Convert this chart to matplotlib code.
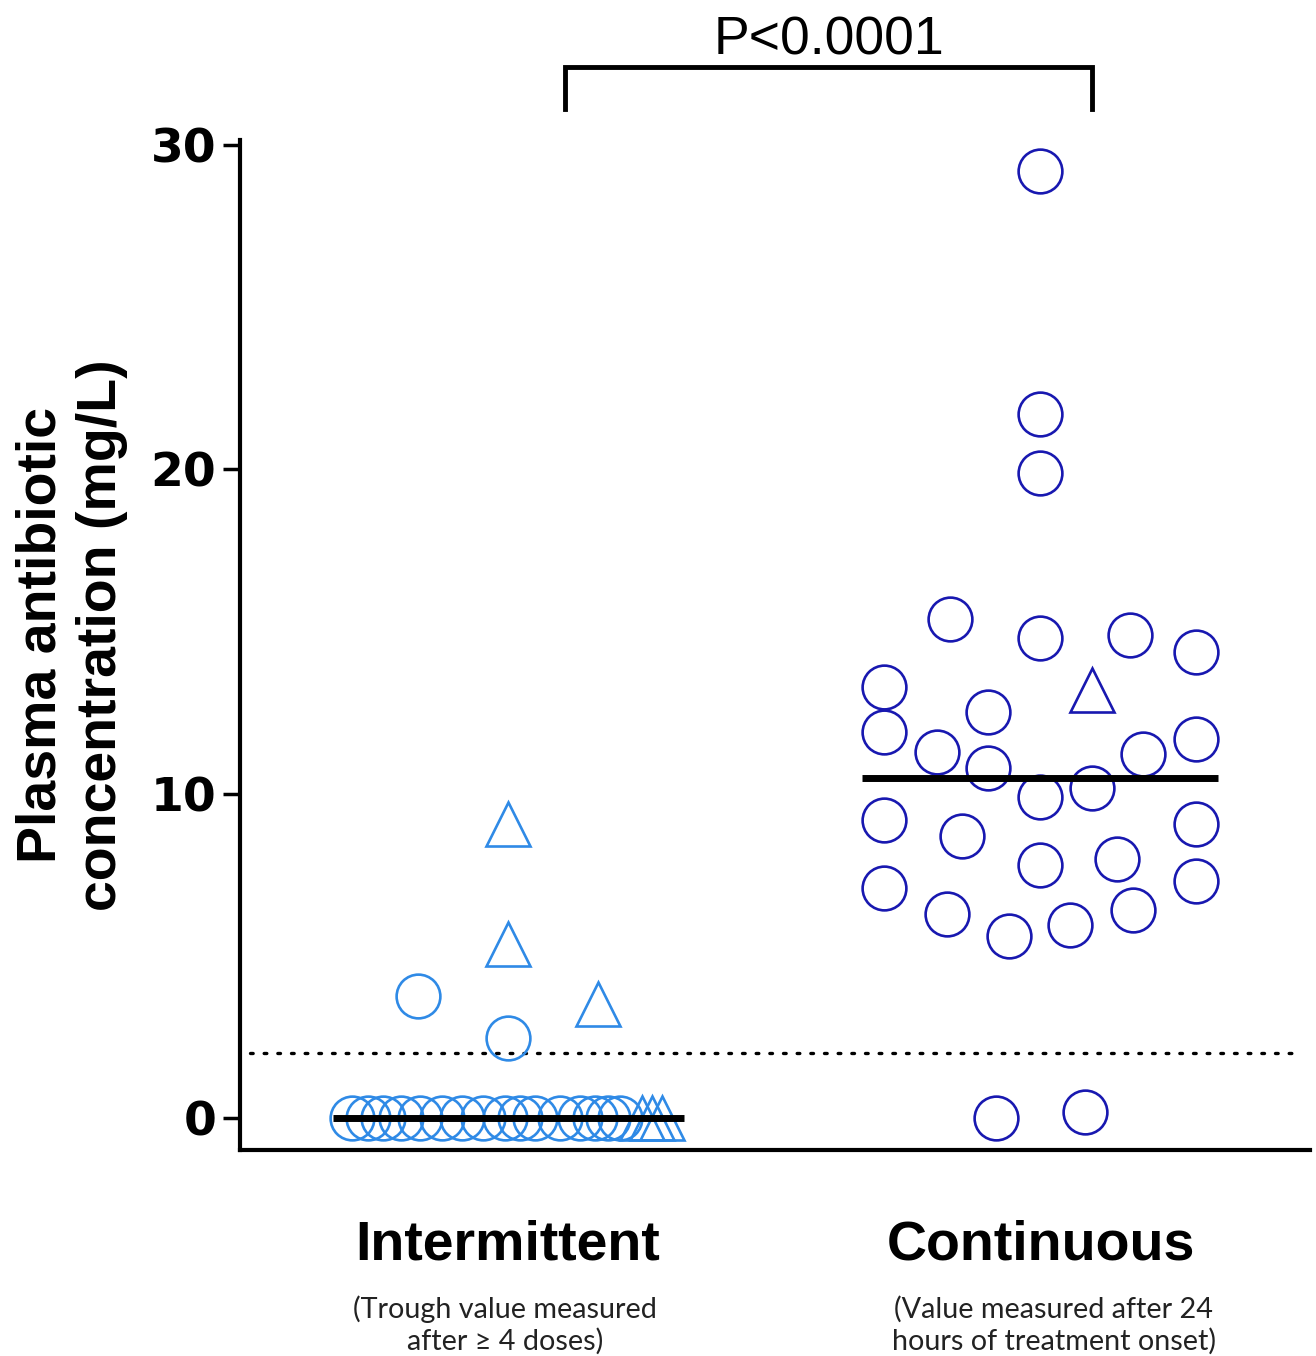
import matplotlib
matplotlib.use("Agg")
import matplotlib.pyplot as plt
import numpy as np

# ---------------- data ----------------
categories = ["Intermittent", "Continuous"]
subtitles = ["(Trough value measured\nafter \u2265 4 doses)",
             "(Value measured after 24\nhours of treatment onset)"]

# Intermittent group (x offsets are horizontal jitter)
int_circle_values = [0.0] * 16 + [3.76, 2.47]
int_circle_offsets = [-0.293, -0.263, -0.235, -0.201, -0.165, -0.124, -0.086,
                      -0.047, -0.006, 0.023, 0.051, 0.098, 0.135, 0.164,
                      0.188, 0.211, -0.169, 0.0]
int_triangle_values = [0.0, 0.0, 0.0, 9.05, 5.35, 3.51]
int_triangle_offsets = [0.252, 0.271, 0.290, 0.0, 0.0, 0.169]
int_median = 0.0

# Continuous group
cont_circle_values = [29.18, 21.69, 19.88, 15.38, 14.79, 14.88, 14.36, 13.28,
                      12.51, 11.90, 11.28, 11.22, 11.68, 10.79, 9.89, 10.17,
                      9.18, 8.69, 9.06, 7.80, 7.98, 7.09, 7.30, 6.29, 5.61,
                      5.95, 6.41, 0.0, 0.18]
cont_circle_offsets = [0.0, 0.0, 0.0, -0.169, 0.0, 0.169, 0.293, -0.293,
                       -0.098, -0.293, -0.194, 0.194, 0.293, -0.098, 0.0, 0.098,
                       -0.293, -0.147, 0.293, 0.0, 0.145, -0.293, 0.293, -0.175,
                       -0.058, 0.056, 0.175, -0.083, 0.085]
cont_triangle_values = [13.19]
cont_triangle_offsets = [0.098]
cont_median = 10.48

threshold = 2.0
p_text = "P<0.0001"
yticks = [0, 10, 20, 30]

# ---------------- figure ----------------
W, H = 1316, 1356
fig = plt.figure(figsize=(W / 100, H / 100), dpi=100)
ax = fig.add_axes([240 / W, 1 - 1150 / H, (1310 - 240) / W, (1150 - 140) / H])

c_int = "#2f8ae6"
c_cont = "#1818b0"
ms = 31.5
ew = 1.9

x_int, x_cont = 1, 2
ax.plot(np.array(int_circle_offsets) + x_int, int_circle_values, "o", ms=ms,
        mfc="none", mec=c_int, mew=ew, ls="none", clip_on=False, zorder=3)
ax.plot(np.array(int_triangle_offsets) + x_int, int_triangle_values, "^", ms=ms,
        mfc="none", mec=c_int, mew=ew, ls="none", clip_on=False, zorder=3)
ax.plot(np.array(cont_circle_offsets) + x_cont, cont_circle_values, "o", ms=ms,
        mfc="none", mec=c_cont, mew=ew, ls="none", clip_on=False, zorder=3)
ax.plot(np.array(cont_triangle_offsets) + x_cont, cont_triangle_values, "^", ms=ms,
        mfc="none", mec=c_cont, mew=ew, ls="none", clip_on=False, zorder=3)

# medians
ax.plot([x_int - 0.329, x_int + 0.331], [int_median] * 2, color="black", lw=5,
        solid_capstyle="butt", zorder=4)
ax.plot([x_cont - 0.335, x_cont + 0.335], [cont_median] * 2, color="black", lw=5,
        solid_capstyle="butt", zorder=4)

# threshold dotted line
ax.plot([0.515, 2.476], [threshold] * 2, color="black", lw=2.4,
        ls=(0, (0.8, 3.3)), dash_capstyle="round", zorder=2)

ax.set_xlim(0.496, 2.507)
ax.set_ylim(-0.99, 30.15)

for s in ["top", "right"]:
    ax.spines[s].set_visible(False)
for s in ["left", "bottom"]:
    ax.spines[s].set_linewidth(3)
ax.set_xticks([])
ax.set_yticks(yticks)
ax.set_yticklabels([str(t) for t in yticks], fontsize=34, fontweight="heavy",
                   family="DejaVu Sans")
ax.tick_params(axis="y", length=12, width=2.5, pad=5)

# significance bracket
bx0 = x_int + (565 - 508) / 532
bx1 = x_cont + (1092 - 1040) / 532
ax.plot([bx0, bx0, bx1, bx1], [31.12, 32.39, 32.39, 31.12], color="black", lw=3.5,
        clip_on=False, solid_joinstyle="miter")
ax.text((bx0 + bx1) / 2, 32.78, p_text, ha="center", va="baseline", fontsize=38.5,
        family="Liberation Sans", clip_on=False)

# y label
fig.text(72 / W, 1 - 635 / H, "Plasma antibiotic\nconcentration (mg/L)",
         rotation=90, ha="center", va="center", fontsize=40, fontweight="bold",
         family="Liberation Sans", linespacing=1.2)

# category labels
for xc, name, sub, sx in [(508, categories[0], subtitles[0], 505),
                          (1041, categories[1], subtitles[1], 1054)]:
    fig.text(xc / W, 1 - 1245 / H, name, ha="center", va="center", fontsize=40,
             fontweight="bold", family="Liberation Sans")
    fig.text(sx / W, 1 - 1325 / H, sub, ha="center", va="center", fontsize=20.7,
             family="Lato", color="#222222", linespacing=1.22,
             multialignment="center")

fig.savefig("out.png", dpi=100)
